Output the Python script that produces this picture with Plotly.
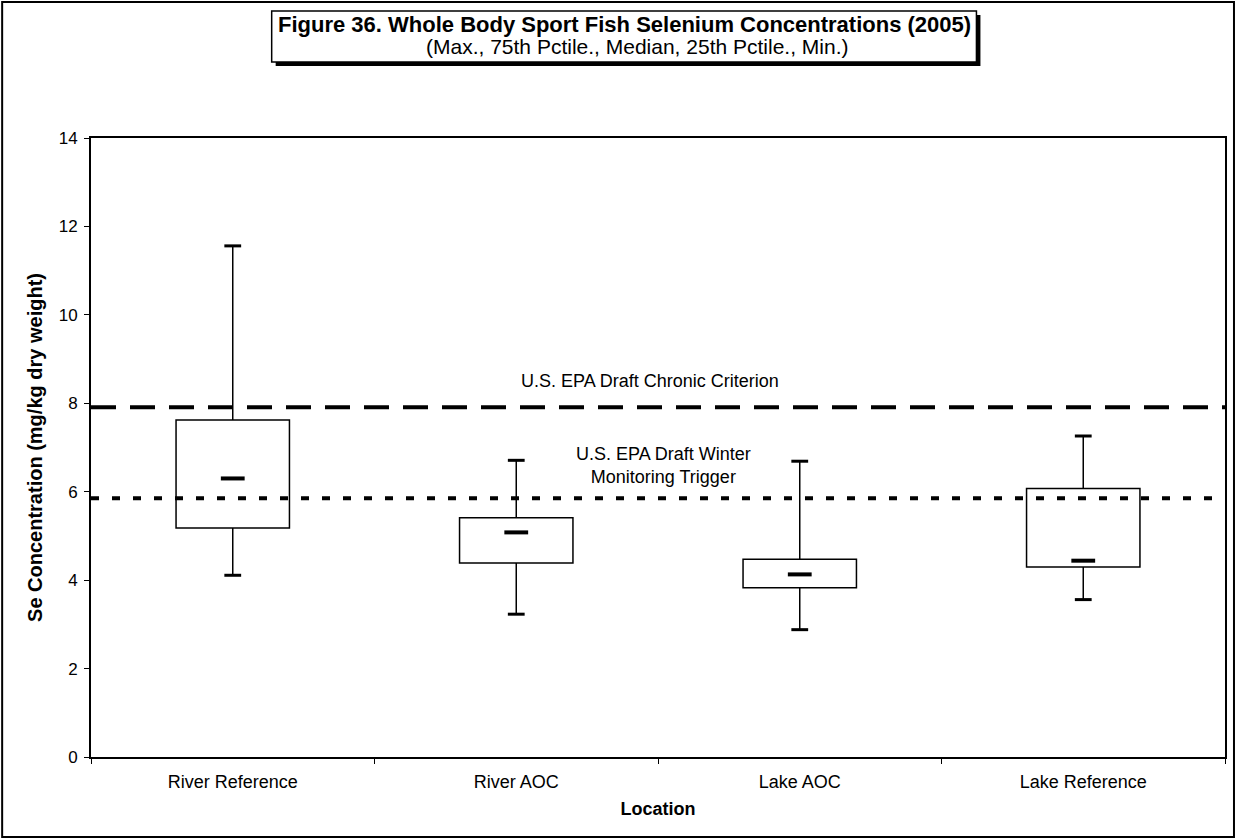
import plotly.graph_objects as go

# ---- data ----
locations = ["River Reference", "River AOC", "Lake AOC", "Lake Reference"]
maximum = [11.56, 6.71, 6.69, 7.26]
q3 = [7.62, 5.41, 4.47, 6.07]
median = [6.30, 5.08, 4.13, 4.44]
q1 = [5.18, 4.39, 3.83, 4.30]
minimum = [4.11, 3.23, 2.88, 3.56]
chronic_criterion = 7.91
winter_trigger = 5.85
y_ticks = [0, 2, 4, 6, 8, 10, 12, 14]

W, H = 1238, 839
L, R, T, B = 91, 11, 138, 82
FONT = "Liberation Sans, Arial, sans-serif"

fig = go.Figure()

# boxes (Q1 -> Q3)
fig.add_trace(go.Bar(
    x=locations, base=q1, y=[a - b for a, b in zip(q3, q1)], width=0.4,
    marker=dict(color="white", line=dict(color="black", width=1.5)),
    showlegend=False, hoverinfo="skip"))

# whiskers
wx, wy = [], []
for c, hi, top, bot, lo in zip(locations, maximum, q3, q1, minimum):
    wx += [c, c, None, c, c, None]
    wy += [top, hi, None, bot, lo, None]
fig.add_trace(go.Scatter(x=wx, y=wy, mode="lines",
                         line=dict(color="black", width=1.5),
                         showlegend=False, hoverinfo="skip"))

# caps
fig.add_trace(go.Scatter(x=locations + locations, y=maximum + minimum, mode="markers",
                         marker=dict(symbol="line-ew", size=12,
                                     line=dict(color="black", width=3)),
                         showlegend=False, hoverinfo="skip"))
# medians
fig.add_trace(go.Scatter(x=locations, y=median, mode="markers",
                         marker=dict(symbol="line-ew", size=17,
                                     line=dict(color="black", width=4)),
                         showlegend=False, hoverinfo="skip"))

# reference lines
fig.add_shape(type="line", xref="paper", x0=0, x1=1, yref="y",
              y0=chronic_criterion, y1=chronic_criterion, layer="above",
              line=dict(color="black", width=4, dash="25px,14px"))
fig.add_shape(type="line", xref="paper", x0=0, x1=1, yref="y",
              y0=winter_trigger, y1=winter_trigger, layer="above",
              line=dict(color="black", width=4, dash="8px,13px"))

pw, ph = W - L - R, H - T - B


def px_x(x):
    return (x - L) / pw


def px_y(y):
    return (H - B - y) / ph


# outer border
fig.add_shape(type="rect", xref="paper", yref="paper",
              x0=px_x(2), x1=px_x(1236), y0=px_y(837), y1=px_y(2),
              line=dict(color="black", width=2), fillcolor="rgba(0,0,0,0)")
# title box shadow + box
fig.add_shape(type="rect", xref="paper", yref="paper",
              x0=px_x(276), x1=px_x(982), y0=px_y(66), y1=px_y(15),
              line=dict(color="black", width=0), fillcolor="black")
fig.add_shape(type="rect", xref="paper", yref="paper",
              x0=px_x(272), x1=px_x(978), y0=px_y(62), y1=px_y(11),
              line=dict(color="black", width=1.5), fillcolor="white")

fig.add_annotation(xref="paper", yref="paper", x=px_x(625), y=px_y(24),
                   xanchor="center", yanchor="middle",
                   text="<b>Figure 36. Whole Body Sport Fish Selenium Concentrations (2005)</b>",
                   showarrow=False, font=dict(size=22, color="black", family=FONT))
fig.add_annotation(xref="paper", yref="paper", x=px_x(638), y=px_y(47),
                   xanchor="center", yanchor="middle",
                   text="(Max., 75th Pctile., Median, 25th Pctile., Min.)",
                   showarrow=False, font=dict(size=21, color="black", family=FONT))

fig.add_annotation(xref="paper", yref="paper", x=px_x(651), y=px_y(381),
                   xanchor="center", yanchor="middle",
                   text="U.S. EPA Draft Chronic Criterion",
                   showarrow=False, font=dict(size=18, color="black", family=FONT))
fig.add_annotation(xref="paper", yref="paper", x=px_x(665), y=px_y(465),
                   xanchor="center", yanchor="middle",
                   text="U.S. EPA Draft Winter<br>Monitoring Trigger",
                   showarrow=False, font=dict(size=18, color="black", family=FONT))

fig.update_layout(
    width=W, height=H,
    margin=dict(l=L, r=R, t=T, b=B),
    paper_bgcolor="white", plot_bgcolor="white",
    font=dict(family=FONT, size=18, color="black"),
    showlegend=False,
    xaxis=dict(type="category", categoryorder="array", categoryarray=locations,
               tickson="boundaries", ticks="outside", ticklen=5, tickcolor="black",
               showline=True, linecolor="black", linewidth=2, mirror=True,
               showgrid=False, range=[-0.5, 3.5], ticklabelstandoff=7,
               tickfont=dict(size=18),
               title=dict(text="<b>Location</b>", font=dict(size=18), standoff=12)),
    yaxis=dict(range=[0, 14], tickvals=y_ticks, ticks="outside", ticklen=5,
               tickcolor="black", showline=True, linecolor="black", linewidth=2,
               mirror=True, showgrid=False, zeroline=False, ticklabelstandoff=3,
               tickfont=dict(size=17),
               title=dict(text="<b>Se Concentration (mg/kg dry weight)</b>",
                          font=dict(size=20), standoff=11)),
)

fig.write_html("out.html")
